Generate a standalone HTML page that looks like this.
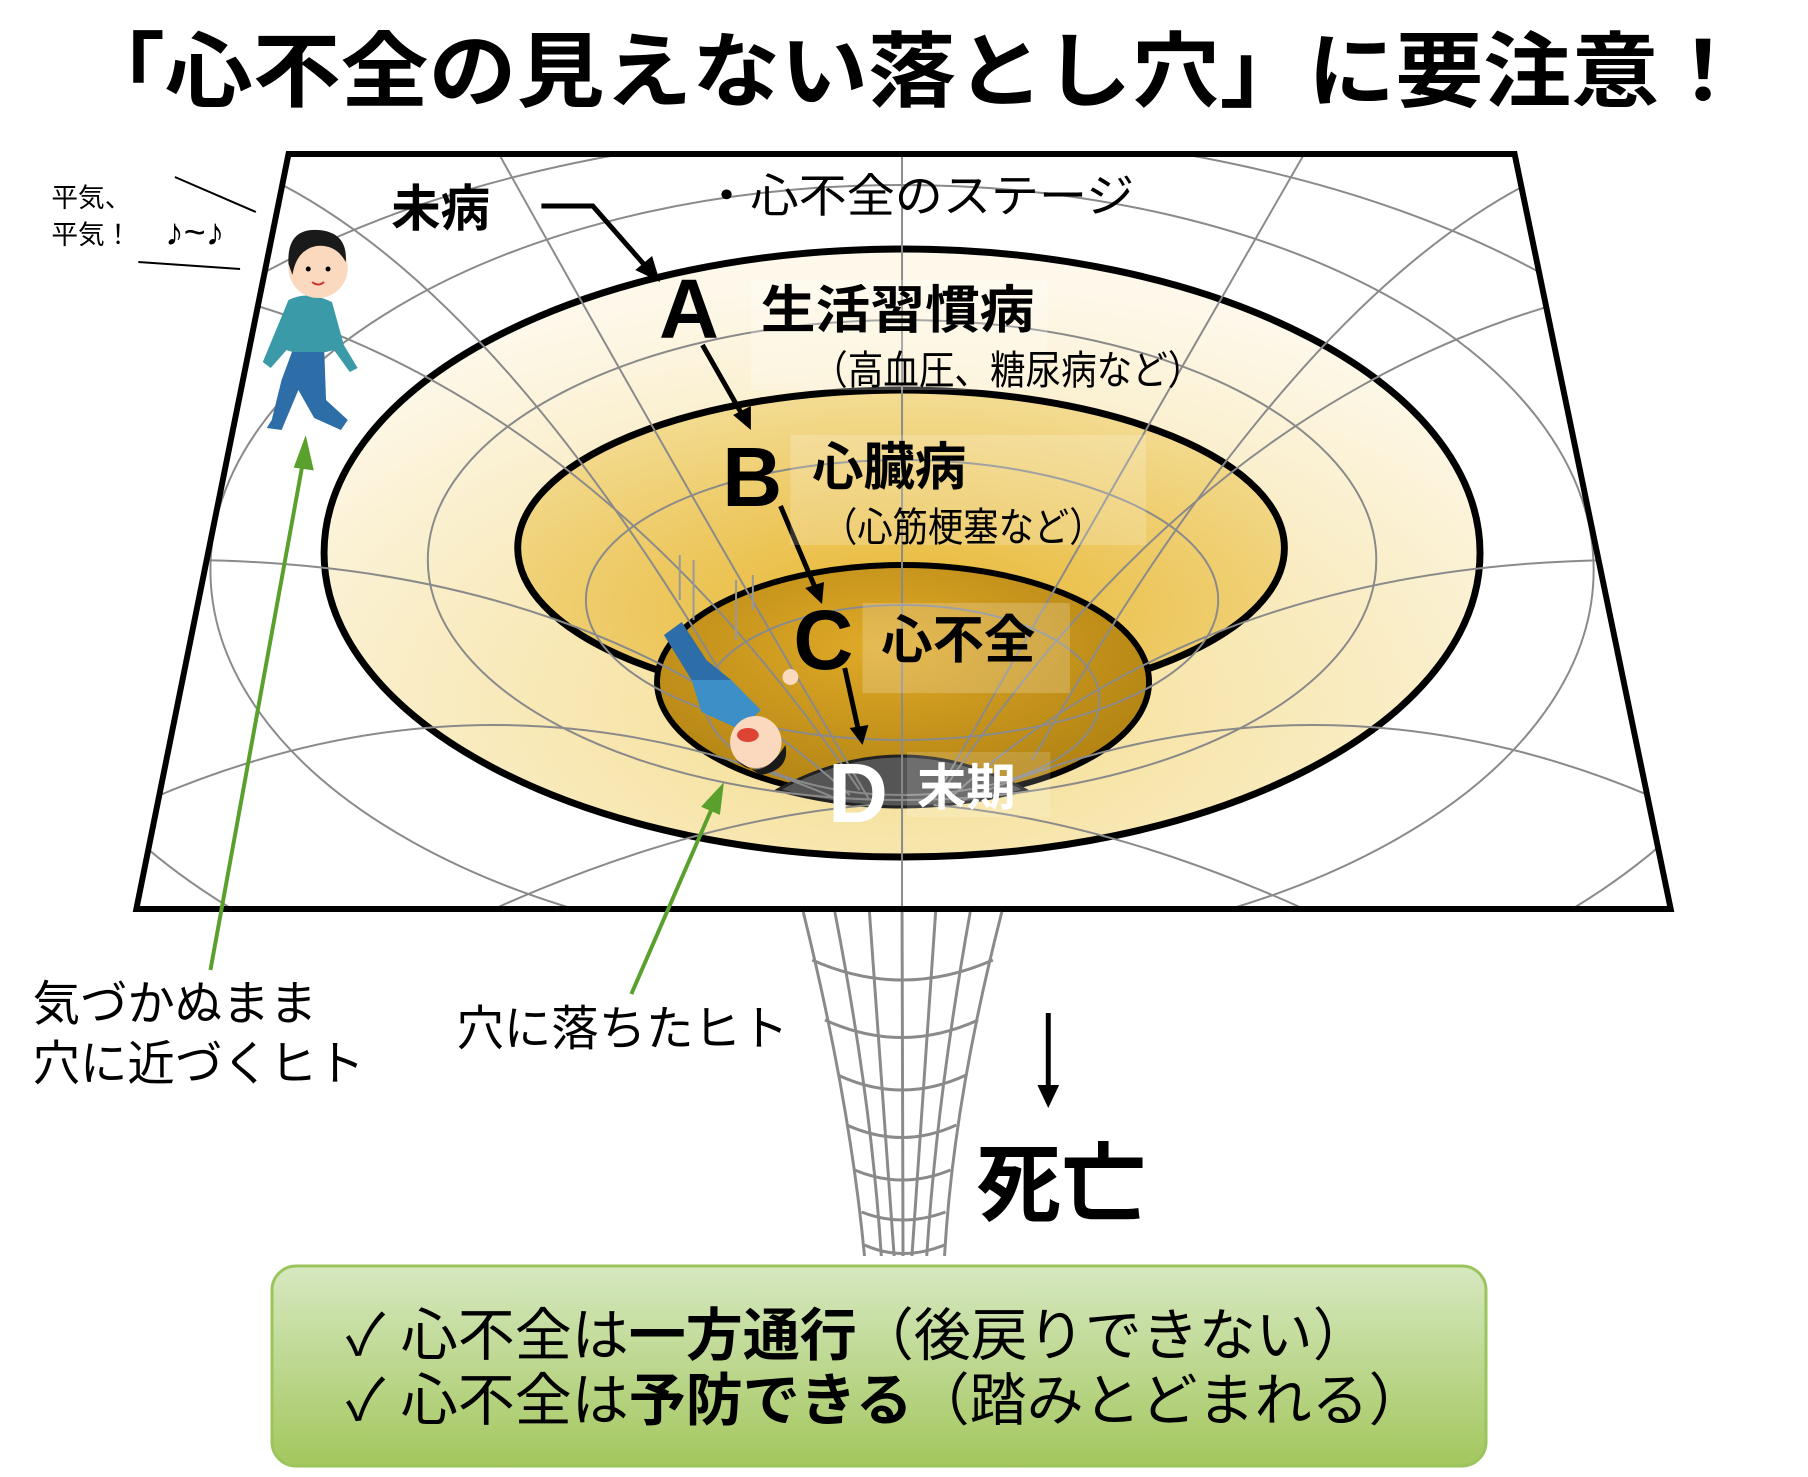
<!DOCTYPE html>
<html><head><meta charset="utf-8"><style>
html,body{margin:0;padding:0;background:#fff}
body{width:1808px;height:1477px;overflow:hidden;position:relative;font-family:"Liberation Sans","Noto Sans CJK JP",sans-serif}
svg{position:absolute;left:0;top:0}
</style></head><body>
<svg width="1808" height="1477" viewBox="0 0 1808 1477" xmlns="http://www.w3.org/2000/svg" font-family="Liberation Sans, Noto Sans CJK JP, sans-serif">
<defs>
<clipPath id="plane"><polygon points="292,154 1533,154 1691,909 138,909"/></clipPath>
<radialGradient id="g1" cx="0.5" cy="0.75" r="0.7"><stop offset="0" stop-color="#f4dc8c"/><stop offset="1" stop-color="#fdf8ea"/></radialGradient>
<radialGradient id="g2" cx="0.5" cy="0.7" r="0.7"><stop offset="0" stop-color="#e8b630"/><stop offset="1" stop-color="#f3dc94"/></radialGradient>
<radialGradient id="g3" cx="0.45" cy="0.35" r="0.8"><stop offset="0" stop-color="#e0aa28"/><stop offset="1" stop-color="#a77a0e"/></radialGradient>
<linearGradient id="gb" x1="0" y1="0" x2="0" y2="1"><stop offset="0" stop-color="#d6e8c0"/><stop offset="1" stop-color="#a4c75e"/></linearGradient>
</defs>

<text x="912" y="100" font-size="82" font-weight="bold" text-anchor="middle" textLength="1670" lengthAdjust="spacingAndGlyphs">「心不全の見えない落とし穴」に要注意！</text>

<g transform="scale(0.988 1)">
<polygon points="292,154 1533,154 1691,909 138,909" fill="#fff"/>
<g clip-path="url(#plane)" fill="none" stroke="#8a8a8a" stroke-width="2">
<ellipse cx="913" cy="570" rx="700" ry="385"/>
<ellipse cx="913" cy="600" rx="900" ry="470"/>
</g>
<ellipse cx="913" cy="553" rx="585" ry="304" fill="url(#g1)" stroke="#000" stroke-width="7"/>
<ellipse cx="912" cy="548" rx="388" ry="158" fill="url(#g2)" stroke="#000" stroke-width="7"/>
<ellipse cx="914" cy="682" rx="249" ry="117" fill="url(#g3)" stroke="#000" stroke-width="6"/>
<path d="M787,790 Q912,722 1038,790 Q912,824 787,790Z" fill="#555" stroke="#222" stroke-width="3"/>
<g clip-path="url(#plane)" fill="none" stroke="#8a8a8a" stroke-width="2">
<ellipse cx="913" cy="560" rx="480" ry="240"/>
<ellipse cx="913" cy="600" rx="320" ry="140"/>
<ellipse cx="913" cy="700" rx="200" ry="95"/>
<path d="M913,154 L913,909"/>
<path d="M505,154 Q700,500 880,800"/>
<path d="M1320,154 Q1120,500 945,800"/>
<path d="M240,300 Q600,400 870,790"/>
<path d="M1590,300 Q1220,400 955,790"/>
<path d="M180,560 Q600,560 860,795"/>
<path d="M1650,560 Q1230,560 965,795"/>
<path d="M150,800 Q500,650 850,800"/>
<path d="M1680,800 Q1330,650 975,800"/>
<path d="M500,909 Q700,820 880,805"/>
<path d="M1320,909 Q1120,820 945,805"/>
<path d="M230,160 Q500,260 780,760"/>
<path d="M1600,160 Q1330,260 1045,760"/>
</g>
<polygon points="292,154 1533,154 1691,909 138,909" fill="none" stroke="#000" stroke-width="6"/>

<g fill="none" stroke="#8a8a8a" stroke-width="3">
<path d="M813,912 Q860,1100 875,1256"/><path d="M1014,912 Q965,1100 956,1256"/>
<path d="M845,912 Q882,1100 892,1256"/><path d="M982,912 Q948,1100 938,1256"/>
<path d="M880,912 L905,1256"/><path d="M947,912 L923,1256"/>
<path d="M913,912 L914,1256"/>
<path d="M822,960 Q913,1000 1005,960"/>
<path d="M835,1020 Q913,1055 990,1020"/>
<path d="M848,1075 Q913,1105 978,1075"/>
<path d="M857,1125 Q913,1150 968,1125"/>
<path d="M865,1170 Q913,1190 962,1170"/>
<path d="M872,1212 Q913,1228 957,1212"/>
<path d="M875,1245 Q913,1262 956,1245"/>
</g>

<g stroke="#000" stroke-width="5" fill="none">
<path d="M548,206 L600,206 L655,268"/>
<path d="M711,345 L752,416"/>
<path d="M790,506 L826,590"/>
<path d="M855,668 L869,731"/>
<path d="M1061,1013 L1061,1090"/>
</g>
<g fill="#000">
<polygon points="668,282 643,270 660,256"/>
<polygon points="760,430 742,415 760,406"/>
<polygon points="832,604 815,588 834,582"/>
<polygon points="873,745 860,728 879,725"/>
<polygon points="1061,1108 1050,1085 1072,1085"/>
</g>

<text x="396" y="226" font-size="50" font-weight="bold">未病</text>
<text x="711" y="212" font-size="46" textLength="437" lengthAdjust="spacingAndGlyphs">・心不全のステージ</text>
<rect x="760" y="280" width="300" height="110" fill="#fff" opacity="0.25"/>
<text x="667" y="338" font-size="84" font-weight="bold">A</text>
<text x="770" y="328" font-size="52" font-weight="bold" textLength="277" lengthAdjust="spacingAndGlyphs">生活習慣病</text>
<text x="822" y="384" font-size="40" textLength="396" lengthAdjust="spacingAndGlyphs">（高血圧、糖尿病など）</text>
<rect x="800" y="435" width="360" height="110" fill="#fff" opacity="0.2"/>
<text x="731" y="506" font-size="84" font-weight="bold">B</text>
<text x="822" y="485" font-size="52" font-weight="bold">心臓病</text>
<text x="832" y="541" font-size="40" textLength="286" lengthAdjust="spacingAndGlyphs">（心筋梗塞など）</text>
<rect x="873" y="603" width="210" height="90" fill="#fff" opacity="0.2"/>
<text x="803" y="669" font-size="84" font-weight="bold">C</text>
<text x="892" y="658" font-size="52" font-weight="bold">心不全</text>
<rect x="918" y="752" width="145" height="65" fill="#fff" opacity="0.15"/>
<text x="838" y="822" font-size="84" font-weight="bold" fill="#fff">D</text>
<text x="928" y="805" font-size="50" font-weight="bold" fill="#fff">末期</text>

<text x="52" y="207" font-size="27">平気、</text>
<text x="52" y="244" font-size="27">平気！</text>
<text x="167" y="245" font-size="38">♪~♪</text>
<line x1="177" y1="177" x2="259" y2="212" stroke="#000" stroke-width="2"/>
<line x1="140" y1="262" x2="243" y2="269" stroke="#000" stroke-width="2"/>

<g>
<path d="M300,340 L285,380 L275,420 L270,428 L285,430 L302,390 L318,418 L345,430 L352,420 L330,400 L328,345 Z" fill="#2d6da8"/>
<path d="M292,300 Q312,290 336,302 L348,345 L362,368 L354,372 L338,350 L330,352 L296,352 L290,350 L274,368 L266,362 Z" fill="#3a9aa8"/>
<circle cx="322" cy="268" r="30" fill="#fbd9bf"/>
<path d="M292,264 Q290,228 322,230 Q352,232 350,262 Q340,244 320,246 Q300,250 296,275Z" fill="#1a1a1a"/>
<circle cx="312" cy="269" r="2.5" fill="#000"/><circle cx="332" cy="269" r="2.5" fill="#000"/>
<path d="M316,282 Q322,287 328,282" stroke="#c33" stroke-width="2" fill="none"/>
</g>
<g>
<path d="M672,635 L690,622 L715,660 L740,680 L725,700 L700,680 Z" fill="#2d6da8"/>
<path d="M700,680 L740,680 L770,710 L750,730 L710,712 Z" fill="#3d8fc8"/>
<circle cx="765" cy="742" r="26" fill="#fbd9bf"/>
<path d="M745,760 Q770,785 795,745 Q800,770 770,775 Z" fill="#1a1a1a"/>
<ellipse cx="757" cy="735" rx="11" ry="7" fill="#d43" />
<circle cx="800" cy="677" r="8" fill="#fbd9bf"/>
<g stroke="#999" stroke-width="2"><line x1="688" y1="555" x2="688" y2="600"/><line x1="702" y1="560" x2="702" y2="620"/><line x1="745" y1="580" x2="745" y2="640"/><line x1="762" y1="575" x2="762" y2="610"/></g>
</g>

<g stroke="#5aa02c" stroke-width="4" fill="#5aa02c">
<line x1="213" y1="970" x2="307" y2="460"/>
<polygon points="309,442 300,466 315,468"/>
<line x1="639" y1="994" x2="722" y2="805"/>
<polygon points="730,788 713,806 727,812"/>
</g>
<text x="33" y="1020" font-size="48">気づかぬまま</text>
<text x="33" y="1080" font-size="48">穴に近づくヒト</text>
<text x="462" y="1045" font-size="48">穴に落ちたヒト</text>

<text x="988" y="1214" font-size="86" font-weight="bold">死亡</text>
</g>

<rect x="272" y="1266" width="1214" height="200" rx="24" fill="url(#gb)" stroke="#9cc45c" stroke-width="3"/>
<text x="346" y="1355" font-size="57">✓ 心不全は<tspan font-weight="bold">一方通行</tspan>（後戻りできない）</text>
<text x="346" y="1420" font-size="57">✓ 心不全は<tspan font-weight="bold">予防できる</tspan>（踏みとどまれる）</text>
</svg>
</body></html>
